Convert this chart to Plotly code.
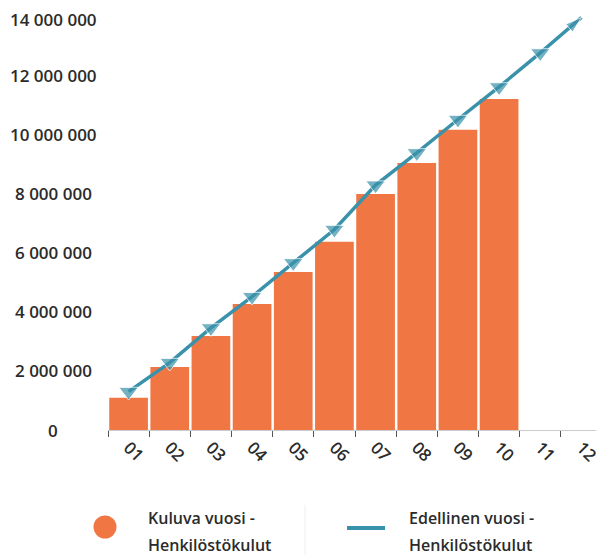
import plotly.graph_objects as go

months = ["01", "02", "03", "04", "05", "06", "07", "08", "09", "10", "11", "12"]
current_year = [1090000, 2130000, 3180000, 4260000, 5340000, 6370000,
                7980000, 9030000, 10150000, 11190000]
previous_year = [1300000, 2280000, 3450000, 4510000, 5650000, 6780000,
                 8280000, 9370000, 10500000, 11600000, 12750000, 13950000]
y_tick_vals = [0, 2000000, 4000000, 6000000, 8000000, 10000000, 12000000, 14000000]
y_tick_text = ["0", "2 000 000", "4 000 000", "6 000 000", "8 000 000",
               "10 000 000", "12 000 000", "14 000 000"]
series_names = ["Kuluva vuosi -", "Henkilöstökulut", "Edellinen vuosi -", "Henkilöstökulut"]

BAR = "#F07744"
LINE = "#3A91AA"
TXT = "#2b2b2b"
FONT = "Open Sans"

OFF = 8  # page body margin
W, H = 604 - OFF, 555 - OFF
L, R, T, B = 108 - OFF, 2, 16 - OFF, 125
pw, ph = W - L - R, H - T - B

def px_x(x):
    return (x - OFF - L) / pw

def px_y(y):
    return (H - B - (y - OFF)) / ph

fig = go.Figure()
fig.add_trace(go.Bar(
    x=months[:len(current_year)], y=current_year, name="Kuluva vuosi - Henkilöstökulut",
    marker=dict(color=BAR, line=dict(width=0)), showlegend=False,
))
symbols = ["triangle-down"] * (len(previous_year) - 1) + ["arrow"]
angles = [0] * (len(previous_year) - 1) + [49]
sizes = [17] * (len(previous_year) - 1) + [17]
fig.add_trace(go.Scatter(
    x=months, y=previous_year, mode="lines+markers", name="Edellinen vuosi - Henkilöstökulut",
    line=dict(color=LINE, width=3.5),
    marker=dict(symbol=symbols, angle=angles, size=sizes, color=LINE),
    cliponaxis=False, showlegend=False,
))

annotations = []
for v, t in zip(y_tick_vals, y_tick_text):
    annotations.append(dict(x=px_x(53), y=v, xref="paper", yref="y", text=t,
                            showarrow=False, xanchor="center", yanchor="middle",
                            yshift=-3 if v == max(y_tick_vals) else 0, borderpad=0,
                            font=dict(family=FONT, size=17, color=TXT, weight=600)))

leg_font = dict(family=FONT, size=16, color=TXT, weight=600)
annotations += [
    dict(x=px_x(146), y=px_y(518), xref="paper", yref="paper", text=series_names[0],
         showarrow=False, xanchor="left", yanchor="middle", font=leg_font),
    dict(x=px_x(146), y=px_y(545), xref="paper", yref="paper", text=series_names[1],
         showarrow=False, xanchor="left", yanchor="middle", font=leg_font),
    dict(x=px_x(407), y=px_y(518), xref="paper", yref="paper", text=series_names[2],
         showarrow=False, xanchor="left", yanchor="middle", font=leg_font),
    dict(x=px_x(407), y=px_y(545), xref="paper", yref="paper", text=series_names[3],
         showarrow=False, xanchor="left", yanchor="middle", font=leg_font),
]
shapes = [
    dict(type="circle", xref="paper", yref="paper", xsizemode="pixel", ysizemode="pixel",
         xanchor=px_x(105), yanchor=px_y(527), x0=-11.5, x1=11.5, y0=-11.5, y1=11.5,
         fillcolor=BAR, line=dict(width=0)),
    dict(type="line", xref="paper", yref="paper", x0=px_x(347), x1=px_x(385),
         y0=px_y(528), y1=px_y(528), line=dict(color=LINE, width=4)),
    dict(type="line", xref="paper", yref="paper", x0=px_x(305), x1=px_x(305),
         y0=px_y(505), y1=px_y(555), line=dict(color="#eeeeee", width=1)),
]

fig.update_layout(
    width=W, height=H, margin=dict(l=L, r=R, t=T, b=B),
    paper_bgcolor="white", plot_bgcolor="white",
    bargap=0.06, showlegend=False,
    font=dict(family=FONT, color=TXT),
    annotations=annotations, shapes=shapes,
)
fig.update_xaxes(
    type="category", categoryorder="array", categoryarray=months,
    range=[-0.5, 11.5], tickangle=45,
    tickfont=dict(family=FONT, size=17, color=TXT, weight=600),
    ticks="outside", tickson="boundaries", ticklen=6, tickwidth=1, tickcolor="#555555",
    showline=True, linecolor="#cccccc", linewidth=1, showgrid=False, zeroline=False,
)
fig.update_yaxes(
    range=[0, 14000000], tickvals=y_tick_vals, showticklabels=False,
    showgrid=False, zeroline=False, showline=False, ticks="",
)

fig.write_html("out.html")
